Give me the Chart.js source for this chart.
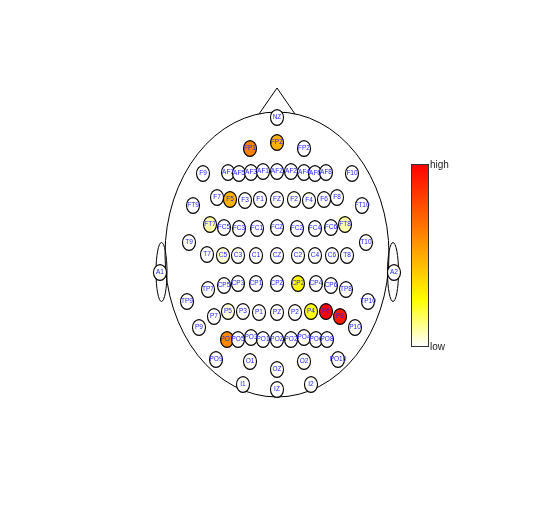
<!DOCTYPE html>
<html lang="en">
<head>
  <meta charset="UTF-8">
  <title>EEG electrode map</title>
  <style>
    body { margin: 0; background: #fff; }
    #wrap { width: 554px; height: 512px; }
  </style>
</head>
<body>
  <div id="wrap"><canvas id="headchart" width="554" height="512"></canvas></div>
  <script src="https://cdn.jsdelivr.net/npm/chart.js@4.4.0/dist/chart.umd.min.js"></script>
  <script>
    // electrode names and positions (head units, centre of head = 0,0)
    const electrodes = ['NZ','FP1','FPZ','FP2','F9','AF7','AF5','AF3','AF1','AFZ','AF2','AF4','AF6','AF8','F10',
      'F7','F5','F3','F1','FZ','F2','F4','F6','F8','FT9','FT10',
      'FT7','FC5','FC3','FC1','FCZ','FC2','FC4','FC6','FT8','T9','T10',
      'T7','C5','C3','C1','CZ','C2','C4','C6','T8','A1','A2',
      'TP7','CP5','CP3','CP1','CPZ','CP2','CP4','CP6','TP8','TP9','TP10',
      'P7','P5','P3','P1','PZ','P2','P4','P6','P8','P9','P10',
      'PO7','PO5','PO3','PO1','POZ','PO2','PO4','PO6','PO8','PO9','PO10',
      'O1','OZ','O2','I1','IZ','I2'];
    const posX = [0,-2.7,0,2.7,-7.4,-4.9,-3.8,-2.6,-1.4,0,1.4,2.7,3.8,4.9,7.5,
      -6.0,-4.7,-3.2,-1.7,0,1.7,3.2,4.7,6.0,-8.4,8.5,
      -6.7,-5.3,-3.8,-2.0,0,2.0,3.8,5.4,6.8,-8.8,8.9,
      -7.0,-5.4,-3.9,-2.1,0,2.1,3.8,5.5,7.0,-11.7,11.7,
      -6.9,-5.3,-3.9,-2.1,0,2.1,3.9,5.4,6.9,-9.0,9.1,
      -6.3,-4.9,-3.4,-1.8,0,1.8,3.4,4.9,6.3,-7.8,7.8,
      -5.0,-3.9,-2.6,-1.4,0,1.4,2.7,3.9,5.0,-6.1,6.1,
      -2.7,0,2.7,-3.4,0,3.4];
    const posY = [13.8,10.7,11.3,10.7,8.2,8.3,8.2,8.3,8.4,8.4,8.4,8.3,8.2,8.3,8.2,
      5.8,5.6,5.5,5.6,5.6,5.6,5.5,5.6,5.8,5.0,5.0,
      3.1,2.8,2.7,2.7,2.8,2.7,2.7,2.8,3.1,1.3,1.3,
      0.1,0,0,0,0,0,0,0,0,-1.7,-1.7,
      -3.4,-3.0,-2.8,-2.8,-2.8,-2.8,-2.8,-3.0,-3.4,-4.6,-4.6,
      -6.1,-5.6,-5.6,-5.7,-5.7,-5.7,-5.6,-5.6,-6.1,-7.2,-7.2,
      -8.4,-8.4,-8.2,-8.4,-8.4,-8.4,-8.2,-8.4,-8.4,-10.4,-10.4,
      -10.6,-11.4,-10.6,-12.9,-13.4,-12.9];

    // electrodes with a value (0 = low, 1 = high)
    const activeNames = ['FP1','FPZ','F5','FT7','FT8','C5','CP2','P5','P4','P6','P8','PO7'];
    const activeValues = [0.62, 0.48, 0.47, 0.085, 0.08, 0.04, 0.27, 0.03, 0.23, 1.0, 0.92, 0.6];

    const scaleLabels = ['low', 'high'];

    // R style heat.colors, reversed: white -> yellow -> orange -> red
    function heat(t) {
      if (t < 0.25) {
        const s = t / 0.25;
        return 'rgb(255,255,' + Math.round(255 * (1 - s)) + ')';
      }
      const g = (1 - t) / 0.75;
      return 'rgb(255,' + Math.round(255 * g) + ',0)';
    }

    function electrodeIcon(fill) {
      const c = document.createElement('canvas');
      c.width = 16; c.height = 19;
      const g = c.getContext('2d');
      g.beginPath();
      g.ellipse(8, 9.5, 6.5, 7.9, 0, 0, Math.PI * 2);
      g.fillStyle = fill;
      g.fill();
      g.lineWidth = 1.1;
      g.strokeStyle = '#000';
      g.stroke();
      return c;
    }

    const points = electrodes.map((n, i) => ({ x: posX[i], y: posY[i] }));
    const styles = electrodes.map(n => {
      const k = activeNames.indexOf(n);
      return electrodeIcon(k < 0 ? '#ffffff' : heat(activeValues[k]));
    });

    const headPlugin = {
      id: 'head',
      beforeDatasetsDraw(chart) {
        const ctx = chart.ctx;
        const xs = chart.scales.x, ys = chart.scales.y;
        const px = v => xs.getPixelForValue(v);
        const py = v => ys.getPixelForValue(v);
        const ux = px(1) - px(0), uy = py(0) - py(1);
        ctx.save();
        ctx.strokeStyle = '#000';
        ctx.lineWidth = 1;
        // ears
        [-11.55, 11.6].forEach(ex => {
          ctx.beginPath();
          ctx.ellipse(px(ex), py(-1.7), 0.55 * ux, 2.95 * uy, 0, 0, Math.PI * 2);
          ctx.stroke();
        });
        // head
        ctx.beginPath();
        ctx.ellipse(px(0), py(0.05), 11.2 * ux, 14.25 * uy, 0, 0, Math.PI * 2);
        ctx.stroke();
        // nose
        ctx.beginPath();
        ctx.moveTo(px(-1.8), py(14.1));
        ctx.lineTo(px(0), py(16.7));
        ctx.lineTo(px(1.8), py(14.1));
        ctx.stroke();
        // colour bar
        const x0 = px(13.4), x1 = px(15.1), y0 = py(9.1), y1 = py(-9.1);
        const grad = ctx.createLinearGradient(0, y1, 0, y0);
        for (let i = 0; i <= 40; i++) grad.addColorStop(i / 40, heat(i / 40));
        ctx.fillStyle = grad;
        ctx.fillRect(x0, y0, x1 - x0, y1 - y0);
        ctx.strokeStyle = '#333';
        ctx.strokeRect(Math.round(x0) + 0.5, Math.round(y0) + 0.5, Math.round(x1 - x0), Math.round(y1 - y0));
        ctx.fillStyle = '#222';
        ctx.font = '10px "Liberation Sans", Arial, sans-serif';
        ctx.textBaseline = 'middle';
        ctx.textAlign = 'left';
        ctx.fillText(scaleLabels[1], x1 + 2, y0 + 1);
        ctx.fillText(scaleLabels[0], x1 + 2, y1 + 1);
        ctx.restore();
        // keep the electrode icons crisp
        ctx.imageSmoothingEnabled = false;
      },
      afterDatasetsDraw(chart) {
        const ctx = chart.ctx;
        const meta = chart.getDatasetMeta(0);
        ctx.save();
        ctx.fillStyle = '#2222ff';
        ctx.font = '6.5px "Liberation Sans", Arial, sans-serif';
        ctx.textAlign = 'center';
        ctx.textBaseline = 'middle';
        meta.data.forEach((pt, i) => {
          ctx.fillText(electrodes[i], pt.x, pt.y + 0.5);
        });
        ctx.restore();
      }
    };

    new Chart(document.getElementById('headchart'), {
      type: 'scatter',
      data: {
        datasets: [{
          data: points,
          pointStyle: styles,
          pointRadius: 8,
          pointHoverRadius: 8
        }]
      },
      options: {
        responsive: false,
        animation: false,
        events: [],
        layout: { padding: 0, autoPadding: false },
        plugins: {
          legend: { display: false },
          tooltip: { enabled: false }
        },
        scales: {
          x: { type: 'linear', min: -27.7, max: 27.7, display: false },
          y: { type: 'linear', min: -25.7, max: 25.5, display: false }
        }
      },
      plugins: [headPlugin]
    });
  </script>
</body>
</html>
